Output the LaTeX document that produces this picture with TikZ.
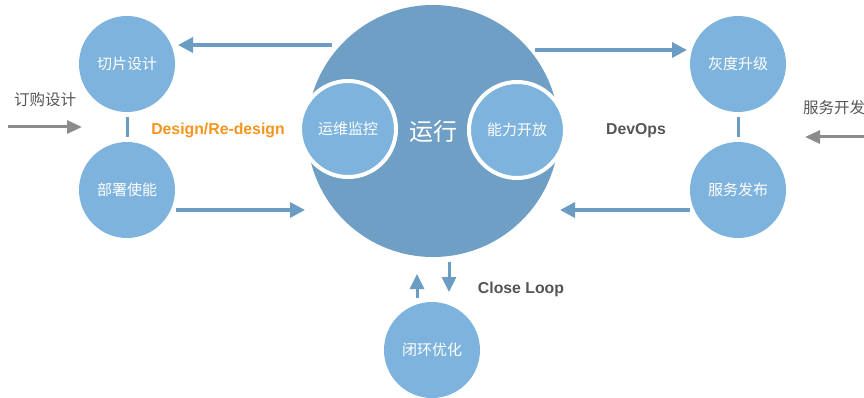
\documentclass[tikz,border=0pt]{standalone}
\usepackage{fontspec}
\setmainfont{Liberation Sans}
\newfontfamily\cjk{Noto Sans CJK SC}
\usetikzlibrary{arrows.meta}
\definecolor{stageblue}{HTML}{7DB3DC}
\definecolor{coreblue}{HTML}{6F9FC4}
\definecolor{flowblue}{HTML}{6B9CC3}
\definecolor{inputgray}{HTML}{8C8C8C}
\definecolor{labelgray}{HTML}{555555}
\definecolor{designorange}{HTML}{F7941D}
\tikzset{
  stage/.style={circle,fill=stageblue,minimum size=96pt,inner sep=0pt,
    text=white,font=\cjk\fontsize{15}{18}\selectfont},
  inner stage/.style={stage,draw=white,line width=4pt},
  flow/.style={draw=flowblue,line width=3.5pt,-{Triangle[length=15pt,width=15pt]}},
  input/.style={draw=inputgray,line width=3pt,-{Triangle[length=15pt,width=13pt]}},
  link/.style={draw=flowblue,line width=3pt},
  phase/.style={font=\bfseries\fontsize{15.8}{18}\selectfont,text=labelgray}
}
\begin{document}
\begin{tikzpicture}[x=1pt,y=-1pt]
  \useasboundingbox (0,0) rectangle (864,398);
  % core
  \node[circle,fill=coreblue,minimum size=252pt,inner sep=0pt] (core) at (433,131) {};
  \node[inner stage] (ops) at (348,129) {运维监控};
  \node[inner stage] (open) at (517,130) {能力开放};
  \node[text=white,font=\cjk\fontsize{24}{28}\selectfont] (run) at (433,131) {运行};
  % design loop
  \node[stage] (slice) at (127,64) {切片设计};
  \node[stage] (deploy) at (127,190) {部署使能};
  \draw[link] (127,117) -- (127,137);
  % devops loop
  \node[stage] (gray) at (738,64) {灰度升级};
  \node[stage] (release) at (738,190) {服务发布};
  \draw[link] (738,117) -- (738,137);
  % close loop
  \node[stage] (optim) at (432,350) {闭环优化};
  % flow arrows
  \coordinate (tl0) at (332,45);  \coordinate (tl1) at (178,45);
  \coordinate (bl0) at (176,210); \coordinate (bl1) at (305,210);
  \coordinate (tr0) at (535,50);  \coordinate (tr1) at (687,50);
  \coordinate (br0) at (690,210); \coordinate (br1) at (560,210);
  \draw[flow] (tl0) -- (tl1);
  \draw[flow] (bl0) -- (bl1);
  \draw[flow] (tr0) -- (tr1);
  \draw[flow] (br0) -- (br1);
  \coordinate (dn0) at (449,262); \coordinate (dn1) at (449,292);
  \coordinate (up0) at (417,298); \coordinate (up1) at (417,274);
  \draw[flow,line width=3pt,-{Triangle[length=15pt,width=14pt]}] (dn0) -- (dn1);
  \draw[flow,line width=3pt,-{Triangle[length=15pt,width=14pt]}] (up0) -- (up1);
  % inputs
  \coordinate (in0) at (8,127);   \coordinate (in1) at (82,127);
  \coordinate (dev0) at (866,137); \coordinate (dev1) at (805,137);
  \draw[input] (in0) -- (in1);
  \draw[input] (dev0) -- (dev1);
  \node[text=labelgray,font=\cjk\fontsize{15.5}{18}\selectfont] (order) at (45,100) {订购设计};
  \node[anchor=west,inner sep=0pt,text=labelgray,font=\cjk\fontsize{15.5}{18}\selectfont] (service) at (803,108) {服务开发};
  % phase labels
  \node[phase,text=designorange] (design) at (218,130) {Design/Re-design};
  \node[phase] (devops) at (636,131) {DevOps};
  \node[phase] (close) at (521,289) {Close Loop};
\end{tikzpicture}
\end{document}
